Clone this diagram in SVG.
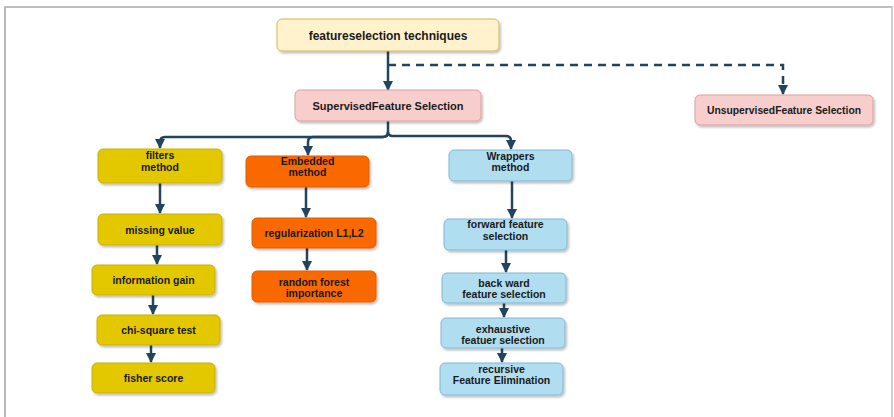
<svg xmlns="http://www.w3.org/2000/svg" width="894" height="417" viewBox="0 0 894 417">
  <defs>
    <marker id="arr" viewBox="0 0 10 10" refX="9" refY="5" markerWidth="4.2" markerHeight="4.2" markerUnits="strokeWidth" orient="auto">
      <path d="M0,0 L10,5 L0,10 Z" fill="#23445d"/>
    </marker>
    <filter id="sh" x="-10%" y="-20%" width="125%" height="160%">
      <feDropShadow dx="1.5" dy="2" stdDeviation="1" flood-color="#000" flood-opacity="0.25"/>
    </filter>
  </defs>
  <style>
    .box { stroke-width: 1; filter: url(#sh); }
    .cream { fill: #fff2cc; stroke: #d6b656; }
    .pink { fill: #f8cecc; stroke: #d9a09e; }
    .yel { fill: #e3c800; stroke: #c9b000; }
    .org { fill: #fa6800; stroke: #e05e00; }
    .blue { fill: #b1ddf0; stroke: #7fb8d4; }
    text { font-family: "Liberation Sans", Arial, sans-serif; font-weight: bold; font-size: 10.5px; fill: #1a1a1a; text-anchor: middle; }
    .conn { fill: none; stroke: #23445d; stroke-width: 2.5; marker-end: url(#arr); }
    .dash { stroke-dasharray: 8 6; }
  </style>

  <rect x="0" y="0" width="894" height="417" fill="#ffffff"/>
  <!-- frame -->
  <path d="M5,417 V7 H892 V417" fill="none" stroke="#ababab" stroke-width="1.6"/>
  <line x1="892" y1="7" x2="892" y2="417" stroke="#e4e4e4" stroke-width="1"/>

  <g id="connectors">
    <path class="conn" d="M388,51 V90"/>
    <path class="conn dash" d="M388,65 H783 V94"/>
    <path class="conn" d="M388,121 V132 Q388,137 383,137 H165 Q160,137 160,142 V148"/>
    <path class="conn" d="M388,132 Q388,137 383,137 H313 Q308,137 308,142 V155"/>
    <path class="conn" d="M388,132 Q388,136 393,136 H506 Q511,136 511,141 V149"/>
    <path class="conn" d="M160,183 V213"/>
    <path class="conn" d="M157,245 V264"/>
    <path class="conn" d="M153,295 V314"/>
    <path class="conn" d="M151,345 V362"/>
    <path class="conn" d="M306,187 V217"/>
    <path class="conn" d="M307,248 V270"/>
    <path class="conn" d="M512,181 V218"/>
    <path class="conn" d="M506,250 V272"/>
    <path class="conn" d="M504,303 V317"/>
    <path class="conn" d="M502,348 V362"/>
  </g>

  <g id="root">
    <rect class="box cream" x="277" y="19" width="222" height="32" rx="5"/>
    <text x="388" y="39.5" style="font-size:12px">featureselection techniques</text>
  </g>
  <g id="supervised">
    <rect class="box pink" x="295" y="90" width="186" height="31" rx="5"/>
    <text x="388" y="109.5" style="font-size:11px">SupervisedFeature Selection</text>
  </g>
  <g id="unsupervised">
    <rect class="box pink" x="695" y="95" width="178" height="30" rx="5"/>
    <text x="784" y="113.5" style="font-size:10.3px">UnsupervisedFeature Selection</text>
  </g>

  <g id="filters">
    <rect class="box yel" x="98" y="149" width="124" height="34" rx="5"/>
    <text x="160" y="159">filters</text>
    <text x="160" y="170.5">method</text>
  </g>
  <g id="missing-value">
    <rect class="box yel" x="98" y="214" width="124" height="31" rx="5"/>
    <text x="160" y="233.5">missing value</text>
  </g>
  <g id="information-gain">
    <rect class="box yel" x="92" y="265" width="123" height="30" rx="5"/>
    <text x="153.5" y="283.5">information gain</text>
  </g>
  <g id="chi-square">
    <rect class="box yel" x="97" y="315" width="123" height="30" rx="5"/>
    <text x="158.5" y="333.5">chi-square test</text>
  </g>
  <g id="fisher-score">
    <rect class="box yel" x="92" y="363" width="123" height="30" rx="5"/>
    <text x="153.5" y="381.5">fisher score</text>
  </g>

  <g id="embedded">
    <rect class="box org" x="246" y="156" width="123" height="31" rx="5"/>
    <text x="307.5" y="165">Embedded</text>
    <text x="307.5" y="176">method</text>
  </g>
  <g id="regularization">
    <rect class="box org" x="252" y="218" width="124" height="30" rx="5"/>
    <text x="314" y="236.5">regularization L1,L2</text>
  </g>
  <g id="random-forest">
    <rect class="box org" x="252" y="271" width="124" height="31" rx="5"/>
    <text x="314" y="285.5">random forest</text>
    <text x="314" y="296.5">importance</text>
  </g>

  <g id="wrappers">
    <rect class="box blue" x="449" y="150" width="123" height="31" rx="5"/>
    <text x="510.5" y="159.5">Wrappers</text>
    <text x="510.5" y="170.5">method</text>
  </g>
  <g id="forward">
    <rect class="box blue" x="444" y="219" width="123" height="31" rx="5"/>
    <text x="505.5" y="228">forward feature</text>
    <text x="505.5" y="239.5">selection</text>
  </g>
  <g id="backward">
    <rect class="box blue" x="442" y="273" width="124" height="30" rx="5"/>
    <text x="504" y="286.5">back ward</text>
    <text x="504" y="297.5">feature selection</text>
  </g>
  <g id="exhaustive">
    <rect class="box blue" x="441" y="318" width="124" height="30" rx="5"/>
    <text x="503" y="332.5">exhaustive</text>
    <text x="503" y="343.5">featuer selection</text>
  </g>
  <g id="recursive">
    <rect class="box blue" x="440" y="363" width="123" height="32" rx="5"/>
    <text x="501.5" y="372.5">recursive</text>
    <text x="501.5" y="384">Feature Elimination</text>
  </g>
</svg>
